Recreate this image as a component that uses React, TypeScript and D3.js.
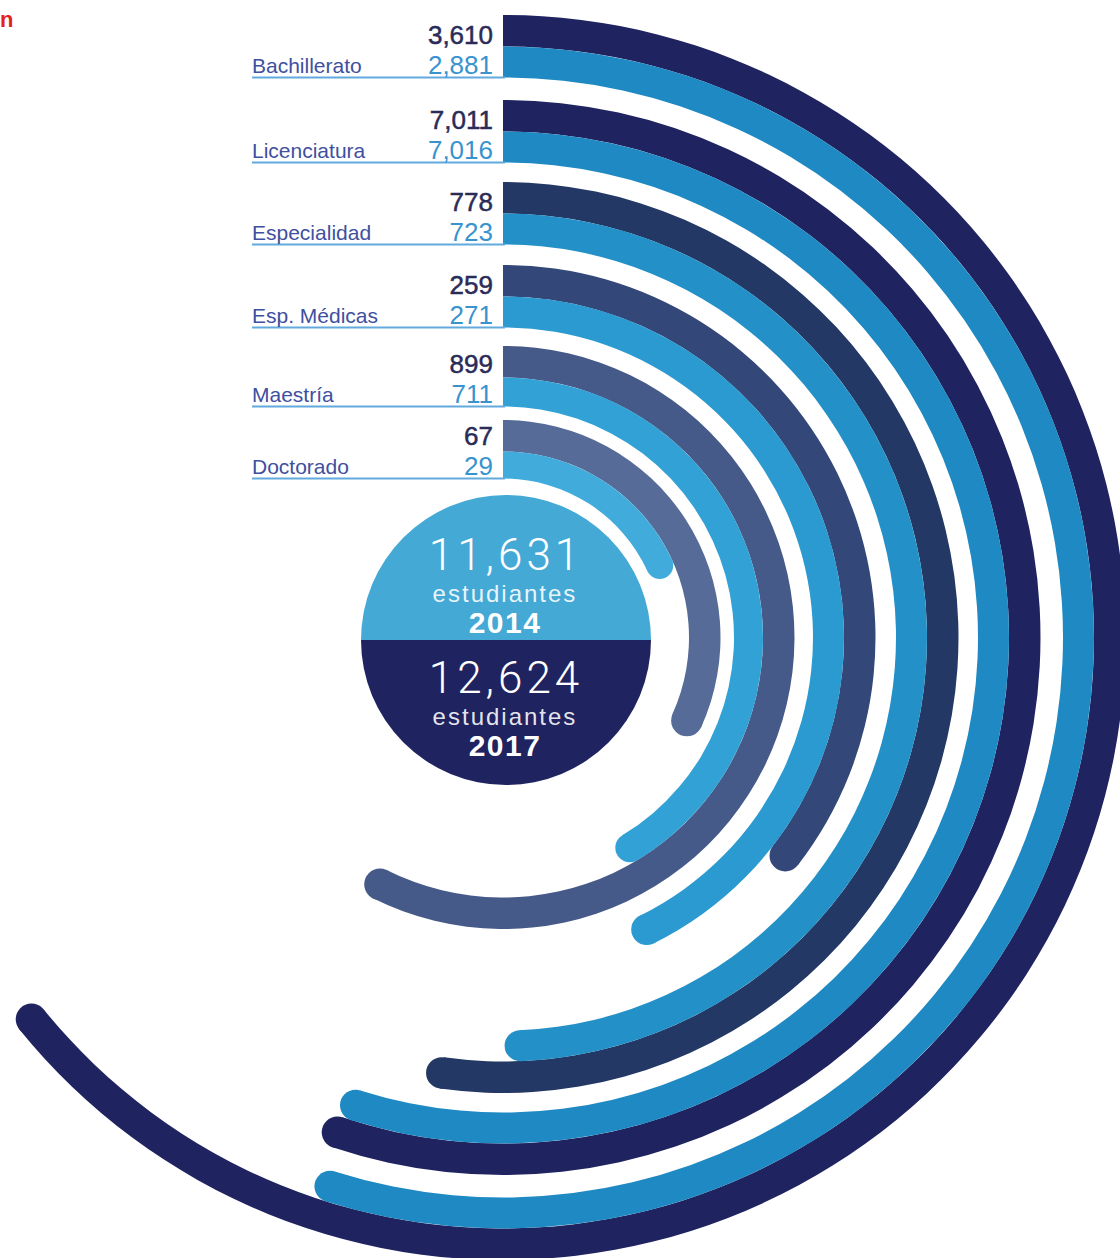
import React from 'react';
import * as d3 from 'd3';

// ---- data ----
const categories = ['Bachillerato', 'Licenciatura', 'Especialidad', 'Esp. Médicas', 'Maestría', 'Doctorado'];
const values2017 = [3610, 7011, 778, 259, 899, 67];
const values2014 = [2881, 7016, 723, 271, 711, 29];
// sweep of each arc in degrees, clockwise from 12 o'clock, as drawn in the infographic
const sweep2017 = [231, 198.5, 188, 127.7, 206.5, 114.3];
const sweep2014 = [197.5, 197.5, 177.6, 153.8, 148.9, 65.3];
const totalValues = [11631, 12624];
const totalYears = ['2014', '2017'];
const totalUnit = 'estudiantes';

// ---- layout ----
const W = 1120;
const H = 1258;
const cx = 503;
const cy = 637.5;
const ringOuter = [622.5, 537.5, 455.5, 372.5, 291.5, 217.5];
const darkW = 31.5;
const lightW = [31, 31, 31, 31, 29, 27];
const darkColors = ['#1f2360', '#1f2360', '#233864', '#334878', '#465a89', '#566b97'];
const lightColors = ['#1e89c2', '#1e89c2', '#2391c8', '#2a9ad0', '#32a1d5', '#41acdb'];

const fmt = d3.format(',');
const angle = d3.scaleLinear().domain([0, 360]).range([0, 2 * Math.PI]);
const arcGen = d3.arc<any>();

function Band({ r0, r1, deg, color }: { r0: number; r1: number; deg: number; color: string }) {
  const a = angle(deg);
  const d = arcGen({ innerRadius: r0, outerRadius: r1, startAngle: 0, endAngle: a }) as string;
  const rm = (r0 + r1) / 2;
  const ex = cx + rm * Math.sin(a);
  const ey = cy - rm * Math.cos(a);
  return (
    <g>
      <path d={d} transform={`translate(${cx},${cy})`} fill={color} />
      <circle cx={ex} cy={ey} r={(r1 - r0) / 2} fill={color} />
    </g>
  );
}

export default function App() {
  const ccx = 506;
  const ccy = 640;
  const cr = 145;
  const topHalf = arcGen({ innerRadius: 0, outerRadius: cr, startAngle: -Math.PI / 2, endAngle: Math.PI / 2 }) as string;
  const botHalf = arcGen({ innerRadius: 0, outerRadius: cr, startAngle: Math.PI / 2, endAngle: (3 * Math.PI) / 2 }) as string;
  const labelFont = '"Liberation Sans", Arial, Helvetica, sans-serif';
  const thinFont = 'Roboto, "Open Sans", sans-serif';

  return (
    <svg
      width={W}
      height={H}
      viewBox={`0 0 ${W} ${H}`}
      style={{ position: 'absolute', left: 0, top: 0, display: 'block', overflow: 'hidden', background: '#fff' }}
    >
      <rect x={0} y={0} width={W} height={H} fill="#fff" />
      <text x={0} y={27} fontFamily={labelFont} fontWeight="bold" fontSize={22} fill="#e3231b">n</text>

      {categories.map((c, i) => {
        const darkOuter = ringOuter[i];
        const darkInner = darkOuter - darkW;
        const lightInner = darkInner - lightW[i];
        return (
          <g key={c}>
            <Band r0={darkInner} r1={darkOuter} deg={sweep2017[i]} color={darkColors[i]} />
            <Band r0={lightInner} r1={darkInner} deg={sweep2014[i]} color={lightColors[i]} />
          </g>
        );
      })}

      {categories.map((c, i) => {
        const darkInner = ringOuter[i] - darkW;
        const lightInner = darkInner - lightW[i];
        const uy = cy - lightInner;
        return (
          <g key={'l' + c} fontFamily={labelFont}>
            <line x1={252} x2={505} y1={uy} y2={uy} stroke="#62a9dd" strokeWidth={2} />
            <text x={252} y={uy - 4.5} fontSize={21} fill="#3f50a0">{c}</text>
            <text x={493} y={uy - 34} fontSize={26} textAnchor="end" fill="#2a2b57" stroke="#2a2b57" strokeWidth={0.5}>
              {fmt(values2017[i])}
            </text>
            <text x={493} y={uy - 4} fontSize={26} textAnchor="end" fill="#3893cf">
              {fmt(values2014[i])}
            </text>
          </g>
        );
      })}

      <path d={topHalf} transform={`translate(${ccx},${ccy})`} fill="#45a9d6" />
      <path d={botHalf} transform={`translate(${ccx},${ccy})`} fill="#1f2360" />
      {totalValues.map((v, k) => {
        const base = k === 0 ? 570 : 693;
        return (
          <g key={'t' + k} textAnchor="middle" fill="#fff">
            <text x={506} y={base} fontFamily={thinFont} fontWeight={300} fontSize={44} letterSpacing={4}>{fmt(v)}</text>
            <text x={505} y={base + 32} fontFamily={labelFont} fontSize={24} letterSpacing={2} fillOpacity={0.9}>{totalUnit}</text>
            <text x={505} y={base + 63} fontFamily={labelFont} fontWeight="bold" fontSize={30} letterSpacing={1.5}>{totalYears[k]}</text>
          </g>
        );
      })}
    </svg>
  );
}
